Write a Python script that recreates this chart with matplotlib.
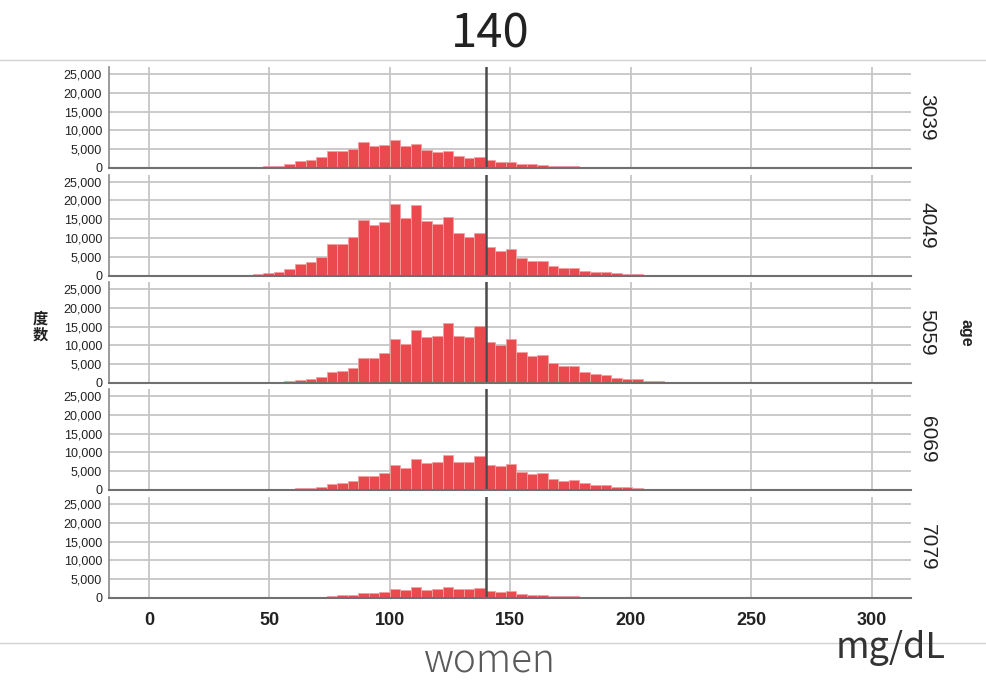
import numpy as np
import matplotlib
matplotlib.use("Agg")
import matplotlib.pyplot as plt
from matplotlib.lines import Line2D
from matplotlib.ticker import FuncFormatter

# ---------------- data ----------------
bin_start = 30.0
bin_width = 4.375
age_groups = ["3039", "4049", "5059", "6069", "7079"]

counts_3039 = [30, 50, 80, 150,
               500, 600, 1100, 1800, 2200, 2900, 4600, 4600, 5100, 7000, 5900, 6000,
               7500, 5750, 6500, 4700, 4200, 4500, 3100, 2600, 2800, 2000, 1550, 1550,
               1100, 950, 870, 600, 500, 500, 350, 250, 250, 150, 120, 100,
               70, 60, 40, 30, 20, 20, 10, 10]
counts_4049 = [50, 80, 150, 300,
               700, 1000, 1600, 3000, 3650, 4900, 8400, 8400, 10300, 14900, 13500, 14200,
               19000, 15200, 18800, 14500, 13650, 15500, 11400, 10350, 11200, 7700, 6600, 7000,
               4700, 3900, 3900, 2500, 2000, 2000, 1300, 950, 950, 600, 430, 350,
               250, 200, 130, 100, 70, 50, 30, 20]
counts_5059 = [30, 50, 80, 150,
               250, 300, 500, 800, 1000, 1500, 2800, 3250, 4000, 6700, 6600, 8000,
               11750, 10500, 14200, 12300, 12450, 16100, 12550, 12300, 15100, 10900, 10250, 11600,
               8150, 7100, 7550, 5200, 4400, 4400, 2900, 2300, 2200, 1400, 1150, 1150,
               600, 600, 350, 250, 200, 120, 80, 50]
counts_6069 = [10, 20, 30, 50,
               80, 150, 250, 400, 650, 900, 1650, 1750, 2300, 3800, 3800, 4500,
               6750, 5900, 8300, 7100, 7450, 9300, 7450, 7450, 8950, 6750, 6400, 7000,
               4900, 4300, 4650, 3050, 2450, 2550, 1750, 1300, 1300, 900, 700, 600,
               350, 250, 180, 130, 100, 70, 50, 30]
counts_7079 = [5, 10, 15, 20,
               30, 50, 70, 100, 170, 350, 600, 700, 860, 1450, 1300, 1650,
               2400, 2050, 2850, 2250, 2350, 3000, 2350, 2350, 2700, 1750, 1650, 1750,
               1050, 860, 860, 600, 430, 430, 260, 170, 170, 100, 70, 60,
               40, 30, 20, 15, 10, 5, 5, 0]
all_counts = [counts_3039, counts_4049, counts_5059, counts_6069, counts_7079]

x_ticks = [0, 50, 100, 150, 200, 250, 300]
y_ticks = [0, 5000, 10000, 15000, 20000, 25000]
threshold = 140
title_text = "140"
unit_text = "mg/dL"
footer_text = "women"
y_label = "度\n数"
facet_label = "age"

# ---------------- figure ----------------
W, H = 987, 682
fig = plt.figure(figsize=(W / 100, H / 100), dpi=100)
fig.patch.set_facecolor("white")

num_font = "Liberation Sans"
cjk_font = ["Noto Sans CJK JP", "DejaVu Sans"]

bottoms_px = [168, 275.5, 383, 490, 598]
ax_h_px = 101
left_px, right_px = 109, 911

bar_color = "#EA4A4E"
edge_color = "#F4A0A2"
grid_color = "#c6c6c6"

n = len(counts_3039)
edges = bin_start + bin_width * np.arange(n + 1)

axes = []
for i, (grp, cnt) in enumerate(zip(age_groups, all_counts)):
    b = bottoms_px[i]
    ax = fig.add_axes([left_px / W, 1 - b / H, (right_px - left_px) / W, ax_h_px / H])
    axes.append(ax)
    ax.set_xlim(-16.6, 316.4)
    ax.set_ylim(0, 26900)
    ax.set_xticks(x_ticks)
    ax.set_yticks(y_ticks)
    ax.grid(True, color=grid_color, lw=1.3, zorder=0)
    ax.set_axisbelow(True)
    ax.bar(edges[:-1], cnt, width=np.diff(edges), align="edge",
           color=bar_color, edgecolor=edge_color, linewidth=0.6, zorder=2)
    ax.axvline(threshold, color="#4a4a4a", lw=1.8, zorder=3)
    for s in ["top", "right"]:
        ax.spines[s].set_visible(False)
    ax.spines["left"].set_color("#8a8a8a")
    ax.spines["left"].set_linewidth(1.2)
    ax.spines["bottom"].set_color("#707070")
    ax.spines["bottom"].set_linewidth(1.5)
    ax.spines["bottom"].set_zorder(4)
    ax.yaxis.set_major_formatter(FuncFormatter(lambda v, p: f"{int(v):,}"))
    ax.tick_params(axis="y", length=0, pad=5, labelsize=9, labelcolor="#222222")
    for lab in ax.get_yticklabels():
        lab.set_family(num_font)
    if i < 4:
        ax.tick_params(axis="x", length=0, labelbottom=False)
    else:
        ax.tick_params(axis="x", length=0, pad=10, labelsize=13, labelcolor="#222222")
        for lab in ax.get_xticklabels():
            lab.set_family(num_font)
            lab.set_fontweight("bold")
    ax.text(1.020, 0.5, grp, transform=ax.transAxes, rotation=270,
            ha="center", va="center", fontsize=15, family=num_font, color="#222222")

# horizontal separator lines
fig.add_artist(Line2D([0, 1], [1 - 60 / H] * 2, color="#d2d2d2", lw=1.0))
fig.add_artist(Line2D([0, 1], [1 - 643 / H] * 2, color="#d2d2d2", lw=1.0))

# texts
fig.text(490 / W, 1 - 34 / H, title_text, ha="center", va="center",
         fontsize=34, family=cjk_font, color="#222222")
fig.text(891 / W, 1 - 648 / H, unit_text, ha="center", va="center",
         fontsize=26, family=cjk_font, color="#333333")
fig.text(490 / W, 1 - 662 / H, footer_text, ha="center", va="center",
         fontsize=28, family=cjk_font, color="#5a5a5a", fontweight="light")
fig.text(40 / W, 1 - 327 / H, y_label, ha="center", va="center",
         fontsize=11, family=["Noto Sans CJK SC", "DejaVu Sans"], fontweight="bold",
         color="#222222", linespacing=1.0)
fig.text(966 / W, 1 - 333 / H, facet_label, ha="center", va="center", rotation=270,
         fontsize=11.5, family=num_font, fontweight="bold", color="#222222")

fig.savefig("out.png", dpi=100, facecolor="white")
